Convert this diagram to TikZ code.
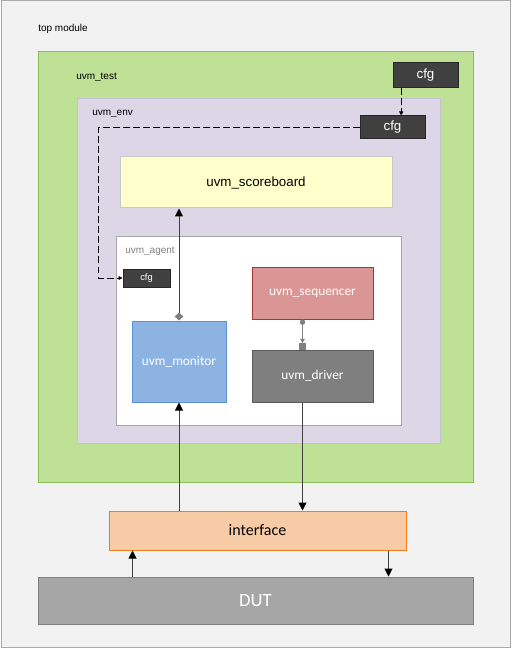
\documentclass[tikz,border=0pt]{standalone}
\usepackage{fontspec}
\setmainfont{Liberation Sans}
\newfontfamily\uvmfont{Carlito}
\usepackage{xcolor}
\usetikzlibrary{arrows.meta}
\definecolor{topfill}{RGB}{242,242,242}
\definecolor{topline}{RGB}{170,170,170}
\definecolor{testfill}{RGB}{190,225,150}
\definecolor{testline}{RGB}{140,190,90}
\definecolor{envfill}{RGB}{220,214,230}
\definecolor{envline}{RGB}{200,194,214}
\definecolor{sbfill}{RGB}{255,255,204}
\definecolor{sbline}{RGB}{200,200,200}
\definecolor{cfgfill}{RGB}{64,64,64}
\definecolor{seqfill}{RGB}{217,150,148}
\definecolor{seqline}{RGB}{165,55,55}
\definecolor{monfill}{RGB}{141,179,226}
\definecolor{monline}{RGB}{90,145,215}
\definecolor{drvfill}{RGB}{127,127,127}
\definecolor{drvline}{RGB}{90,90,90}
\definecolor{iffill}{RGB}{248,203,167}
\definecolor{ifline}{RGB}{240,124,30}
\definecolor{dutfill}{RGB}{166,166,166}
\definecolor{dutline}{RGB}{128,128,128}

\begin{document}
\begin{tikzpicture}[
        x=0.75pt, y=-0.75pt,
        container/.style={rectangle, draw, inner sep=0pt, line width=0.75pt},
        caption/.style={anchor=west, inner sep=0pt, font=\fontsize{7.5}{9}\selectfont},
        block/.style={rectangle, draw, inner sep=0pt, line width=0.75pt, text=white, font=\uvmfont\fontsize{10}{12}\selectfont},
        cfgbox/.style={rectangle, draw=black!85, fill=cfgfill, inner sep=0pt, line width=0.75pt, text=white, font=\fontsize{10}{12}\selectfont, minimum width=48.75pt},
        arrow/.style={-{Triangle[length=6pt, width=6pt, black]}, line width=0.75pt, draw=black!75},
        cfgarrow/.style={-{Triangle[length=3pt, width=3pt]}, line width=0.75pt, dash pattern=on 5pt off 2.5pt}
    ]
        \useasboundingbox (0,0) rectangle (511,648);

        \node[container, draw=topline, fill=topfill, minimum width=381.75pt, minimum height=484.5pt] (top) at (255.5,324) {};
        \node[caption] at (38,28.5) {top module};

        \node[container, draw=testline, fill=testfill, minimum width=326.25pt, minimum height=322.5pt] (test) at (255.5,267) {};
        \node[caption] at (76,77) {uvm\_test};
        \node[cfgbox, minimum height=18.75pt] (cfgtest) at (425.5,75.5) {cfg};

        \node[container, draw=envline, fill=envfill, minimum width=272.25pt, minimum height=258pt] (env) at (258.5,271) {};
        \node[caption] at (92,114) {uvm\_env};
        \node[cfgbox, minimum height=17.25pt] (cfgenv) at (392.5,127.5) {cfg};

        \node[container, draw=sbline, fill=sbfill, minimum width=204pt, minimum height=38.25pt, font=\fontsize{10}{12}\selectfont] (scoreboard) at (256,182.5) {uvm\_scoreboard};

        \node[container, draw=black!35, fill=white, minimum width=213.75pt, minimum height=141pt] (agent) at (258.5,331) {};
        \node[caption, text=black!50] at (125,251) {uvm\_agent};
        \node[cfgbox, minimum width=35.25pt, minimum height=13.5pt, font=\fontsize{7}{8}\selectfont] (cfgagent) at (146.5,278) {cfg};

        \node[block, draw=seqline, fill=seqfill, minimum width=90.75pt, minimum height=39pt] (sequencer) at (312.5,293) {uvm\_sequencer};
        \node[block, draw=monline, fill=monfill, minimum width=70.5pt, minimum height=60.75pt] (monitor) at (179,361.5) {uvm\_monitor};
        \node[block, draw=drvline, fill=drvfill, minimum width=90.75pt, minimum height=39pt] (driver) at (312.5,376) {uvm\_driver};

        \node[block, draw=ifline, fill=iffill, text=black, minimum width=222.75pt, minimum height=29.25pt, font=\uvmfont\fontsize{12}{14}\selectfont] (interface) at (257.5,530.5) {interface};
        \node[block, draw=dutline, fill=dutfill, minimum width=326.25pt, minimum height=35.25pt, font=\uvmfont\fontsize{14}{16}\selectfont] (dut) at (255.5,600.5) {DUT};

        \draw[cfgarrow] ([xshift=6.5pt]cfgtest.south west) -- ([xshift=6.5pt]cfgtest.south west |- cfgenv.north);
        \draw[cfgarrow] (cfgenv.west) -| ([xshift=-18pt]cfgagent.west) -- (cfgagent.west);

        \draw[arrow, {Diamond[length=6pt, width=6.5pt, black!50]}-{Triangle[length=6pt, width=6pt, black]}] (monitor.north) -- (monitor.north |- scoreboard.south);
        \draw[line width=0.75pt, draw=black!50, {Circle[length=4pt]}-{Triangle[length=3pt, width=3.5pt] Square[length=5pt, width=5.5pt]}] ([xshift=-7.5pt]sequencer.south) -- ([xshift=-7.5pt]driver.north);

        \draw[arrow] (monitor.south |- interface.north) -- (monitor.south);
        \draw[arrow] ([xshift=-7.5pt]driver.south) -- ([xshift=-7.5pt]driver.south |- interface.north);
        \draw[arrow] ([xshift=18pt]interface.south west |- dut.north) -- ([xshift=18pt]interface.south west);
        \draw[arrow] ([xshift=-13.5pt]interface.south east) -- ([xshift=-13.5pt]interface.south east |- dut.north);
    \end{tikzpicture}
\end{document}
